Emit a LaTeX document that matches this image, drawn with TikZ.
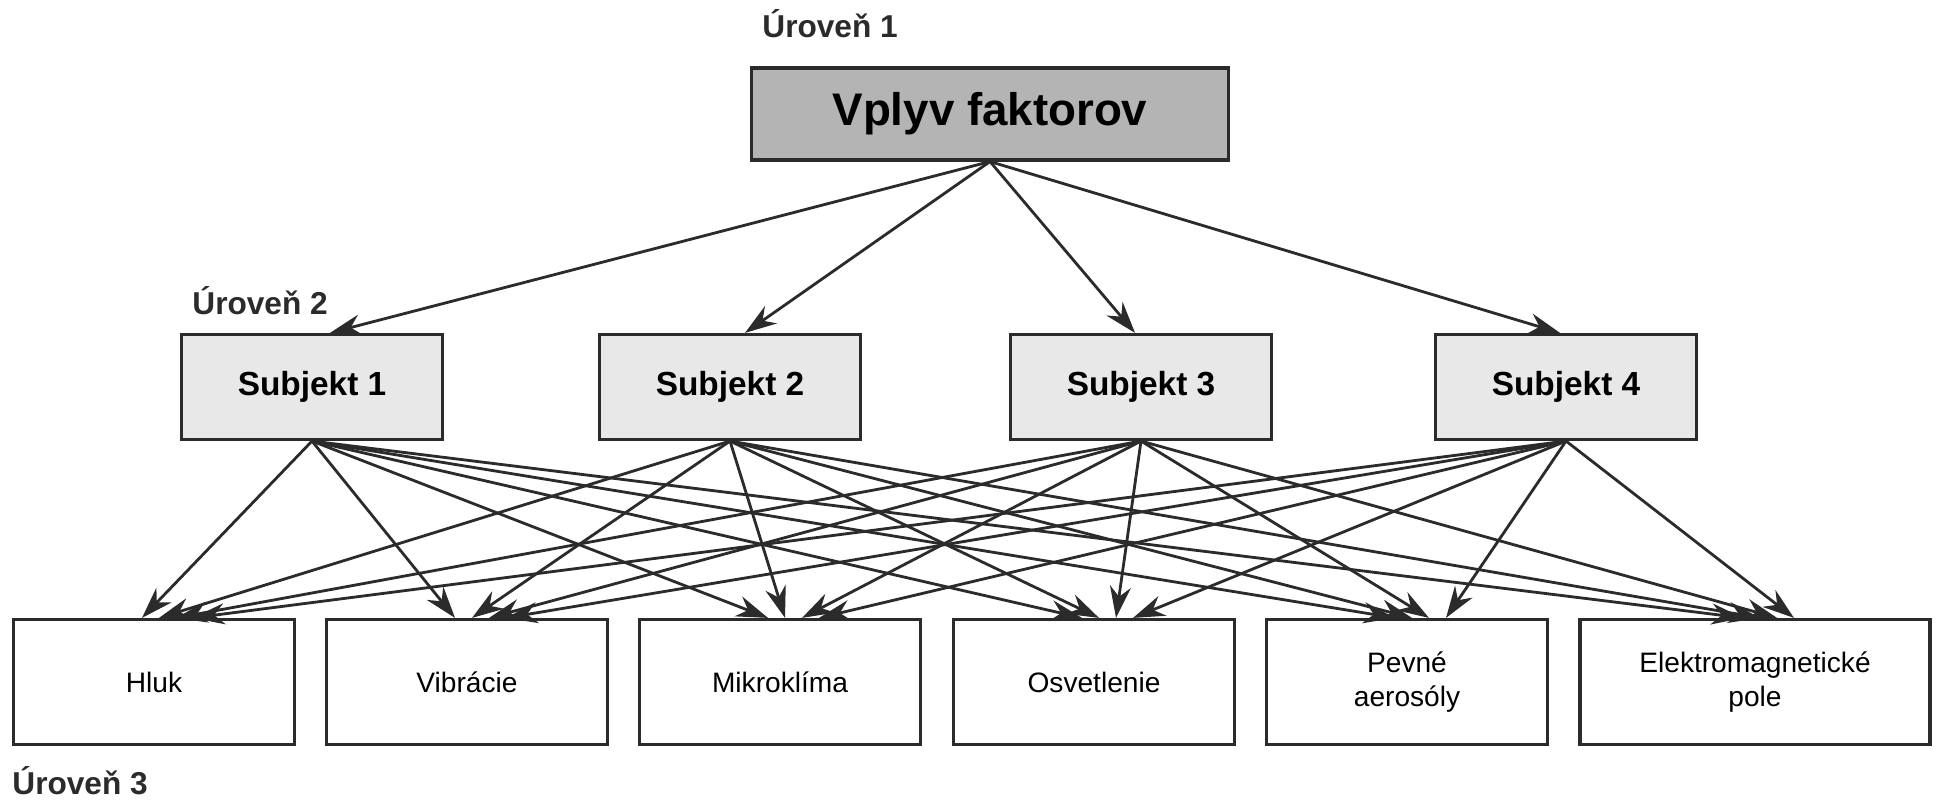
\documentclass[tikz,border=0pt]{standalone}
\usepackage{fontspec}
\setmainfont{Liberation Sans}
\usetikzlibrary{arrows.meta}
\usetikzlibrary{calc}
\definecolor{linecol}{HTML}{2B2B2B}
\definecolor{topfill}{HTML}{B4B4B4}
\definecolor{subfill}{HTML}{E8E8E8}
\tikzset{
  box/.style={draw=linecol, line width=0.9pt, minimum height=1.25cm, minimum width=2.81cm, align=center, font=\fontsize{8}{9.5}\selectfont},
  subj/.style={box, fill=subfill, minimum height=1.05cm, minimum width=2.61cm, font=\fontsize{9.5}{11}\selectfont\bfseries},
  level/.style={font=\fontsize{9}{11}\selectfont\bfseries, text=linecol},
  arr/.style={-{Stealth[length=9pt,width=6pt]}, draw=linecol, line width=0.8pt},
}
\begin{document}
\begin{tikzpicture}
                \useasboundingbox (0,0) rectangle (19.43,8);
                \node[box, fill=topfill, minimum width=4.77cm, minimum height=0.92cm, font=\fontsize{13}{15}\selectfont\bfseries] (vplyv) at (9.9,6.86) {Vplyv faktorov};
                \node (s1) [subj] at (3.12,4.13) {Subjekt 1};
                \node (s2) [subj] at (7.30,4.13) {Subjekt 2};
                \node (s3) [subj] at (11.41,4.13) {Subjekt 3};
                \node (s4) [subj] at (15.66,4.13) {Subjekt 4};
                \node (hluk) [box] at (1.54,1.18) {Hluk};
                \node (vibr) [box] at (4.67,1.18) {Vibrácie};
                \node (mikro) [box] at (7.80,1.18) {Mikroklíma};
                \node (osvet) [box] at (10.94,1.18) {Osvetlenie};
                \node (aero) [box] at (14.07,1.18) {Pevné\\aerosóly};
                \node (elmag) [box, minimum width=3.5cm] at (17.55,1.18) {Elektromagnetické\\pole};
                \node[level, anchor=base west] (u1) at (7.50,7.62) {Úroveň 1};
                \node[level, anchor=base west] (u2) at (1.80,4.85) {Úroveň 2};
                \node[level, anchor=base west] (u3) at (0,0.05) {Úroveň 3};

                \draw[arr] (vplyv.south) -- ([xshift=0.18cm]s1.north);
                \draw[arr] (vplyv.south) -- ([xshift=0.15cm]s2.north);
                \draw[arr] (vplyv.south) -- ([xshift=-0.06cm]s3.north);
                \draw[arr] (vplyv.south) -- ([xshift=-0.06cm]s4.north);
                \foreach \s [count=\j] in {s1,s2,s3,s4}
                    \foreach \t in {hluk,vibr,mikro,osvet,aero,elmag}
                        \draw[arr] (\s.south) -- ([xshift={-0.12cm+0.17cm*(\j-1)}]\t.north);
            \end{tikzpicture}
\end{document}
